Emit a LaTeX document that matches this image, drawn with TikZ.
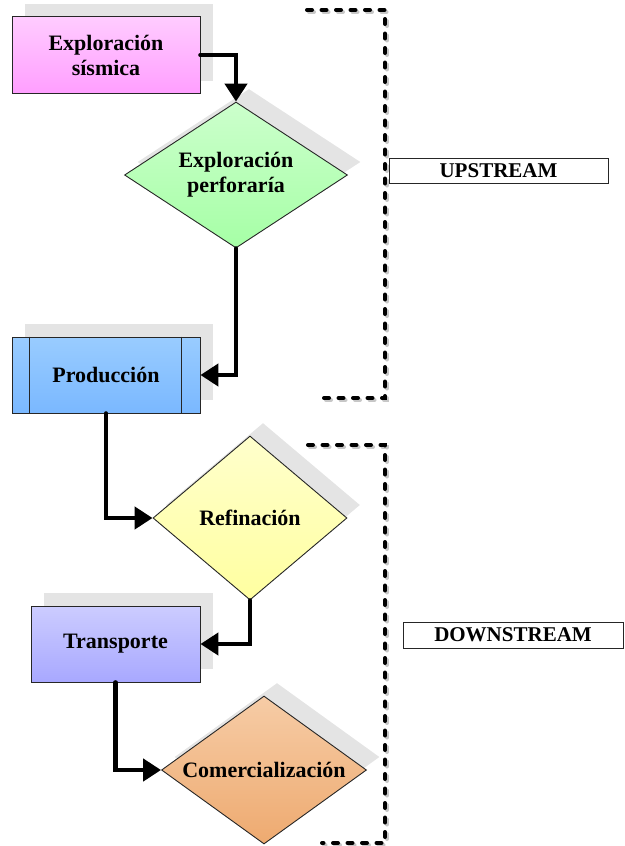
\documentclass[tikz,border=0pt]{standalone}
\usepackage{fontspec}
\setmainfont{Liberation Serif}
\usetikzlibrary{shapes.geometric,shadows,arrows.meta,calc}
\definecolor{shd}{HTML}{E4E4E4}
\tikzset{
  x=1pt, y=-1pt,
  base/.style={draw=black!85, line width=0.9pt, inner sep=0pt, align=center,
    font=\fontsize{22}{25}\selectfont\bfseries,
    drop shadow={shadow xshift=13pt, shadow yshift=13pt, fill=shd, opacity=1, draw=none}},
  rectbox/.style={base, rectangle, minimum width=188pt, minimum height=77pt},
  diam/.style={base, diamond},
  flow/.style={line width=4.5pt, line cap=round, -{Triangle[length=18pt,width=22pt]}},
  bracket/.style={line width=4pt, line cap=round, dash pattern=on 5pt off 9.5pt},
  bracketshadow/.style={bracket, draw=black!22},
  tag/.style={draw=black!85, line width=1pt, minimum height=25pt, inner sep=0pt,
    font=\fontsize{21}{24}\selectfont\bfseries}
}
\begin{document}
\begin{tikzpicture}
\useasboundingbox (0,0) rectangle (624,846);
% brackets
\draw[bracketshadow] (309,12) -- (387,12) -- (387,400) -- (317,400);
\draw[bracket] (307,10) -- (385,10) -- (385,398) -- (315,398);
\draw[bracketshadow] (310,447) -- (387,447) -- (387,845) -- (324,845);
\draw[bracket] (308,445) -- (385,445) -- (385,843) -- (322,843);
% nodes
\node[rectbox, top color=magenta!20, bottom color=magenta!38] (sis) at (106,55) {Exploración\\sísmica};
\node[diam, aspect=1.53, minimum width=223pt, minimum height=146pt, top color=green!20, bottom color=green!35] (perf) at (236,175) {Exploración\\perforaría};
\node[rectbox, minimum height=76pt, top color={rgb,255:red,153;green,204;blue,255}, bottom color={rgb,255:red,122;green,184;blue,255}] (prod) at (106,375) {Producción};
\draw[black!85, line width=0.9pt] ($(prod.north west)+(18,0)$) -- ($(prod.south west)+(18,0)$);
\draw[black!85, line width=0.9pt] ($(prod.north east)+(-19,0)$) -- ($(prod.south east)+(-19,0)$);
\node[diam, aspect=1.18, minimum width=194pt, minimum height=164pt, top color={rgb,255:red,255;green,255;blue,204}, bottom color={rgb,255:red,255;green,255;blue,160}] (ref) at (250,518) {Refinación};
\node[rectbox, minimum width=169pt, minimum height=76pt, top color={rgb,255:red,204;green,204;blue,255}, bottom color={rgb,255:red,168;green,168;blue,255}] (trans) at (115.5,644) {Transporte};
\node[diam, aspect=1.385, minimum width=205pt, minimum height=148pt, top color={rgb,255:red,246;green,204;blue,166}, bottom color={rgb,255:red,238;green,170;blue,112}] (com) at (264,770) {Comercialización};
% labels
\node[tag, minimum width=219pt] (up) at (498.5,170.5) {UPSTREAM};
\node[tag, minimum width=220pt, minimum height=26pt] (down) at (513,635) {DOWNSTREAM};
% connectors
\draw[flow] (sis.east) -| (perf.north);
\draw[flow] (perf.south) |- (prod.east);
\draw[flow] (prod.south) |- (ref.west);
\draw[flow] (ref.south) |- (trans.east);
\draw[flow] (trans.south) |- (com.west);
\end{tikzpicture}
\end{document}
